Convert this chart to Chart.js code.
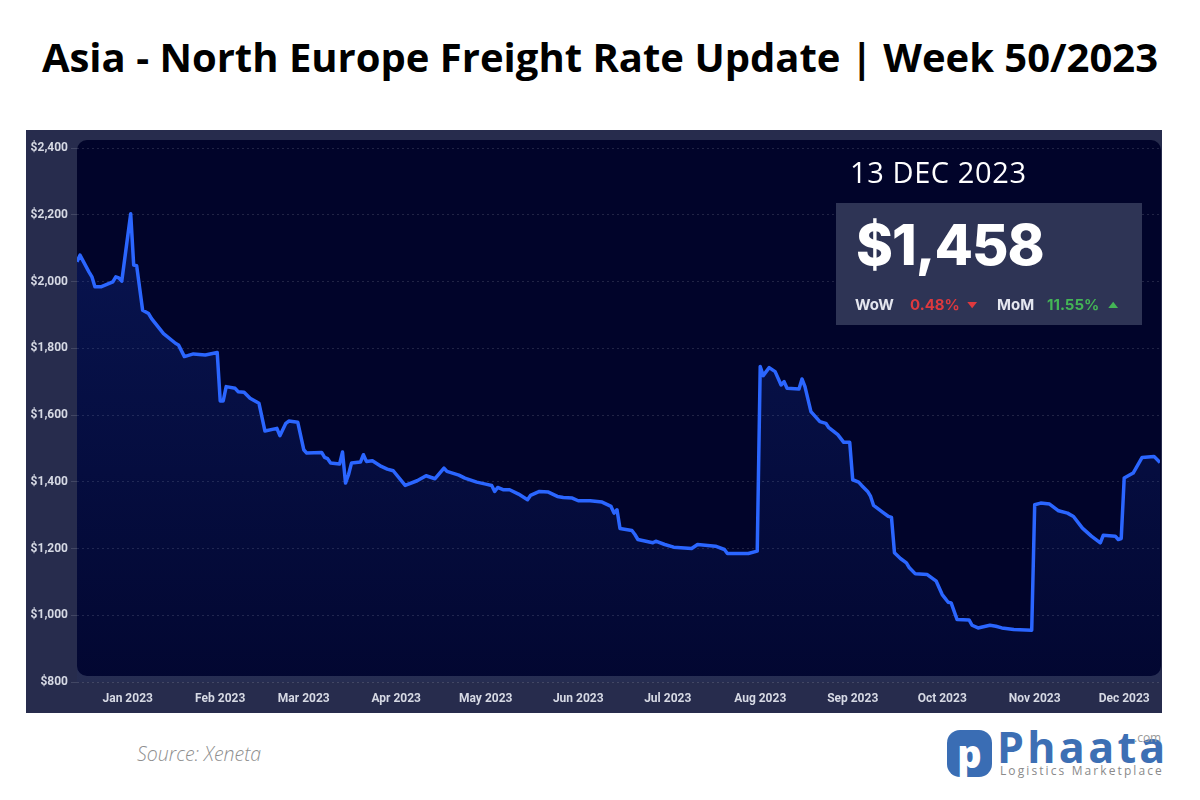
<!DOCTYPE html>
<html>
<head>
<meta charset="utf-8">
<title>Asia - North Europe Freight Rate Update | Week 50/2023</title>
<script src="https://cdn.jsdelivr.net/npm/chart.js@4.4.0/dist/chart.umd.min.js"></script>
<style>
  body { margin: 0; background: #fff; }
  #page { position: relative; width: 1200px; height: 800px; overflow: hidden; font-family: 'Open Sans', sans-serif; }
  #title { position: absolute; left: 0; top: 37px; width: 1200px; text-align: center; font-size: 40px; line-height: 40px; font-weight: 700; color: #000; white-space: nowrap; }
  #panel { position: absolute; left: 26px; top: 130px; width: 1136px; height: 583px; background: #272c4d; }
  #date { position: absolute; left: 850px; top: 157px; font-size: 29px; line-height: 29px; color: #fff; letter-spacing: 0.6px; white-space: nowrap; }
  #box { position: absolute; left: 836px; top: 203px; width: 306px; height: 122px; background: #2e3455; font-family: Inter, sans-serif; }
  #price { position: absolute; left: 20px; top: 14px; font-size: 56px; line-height: 56px; font-weight: 800; color: #fff; letter-spacing: -1px; }
  .chg { position: absolute; top: 94px; font-size: 15px; line-height: 15px; font-weight: 700; white-space: nowrap; }
  .lbl { color: #e4e6ef; }
  .down { color: #e0393e; }
  .up { color: #44b556; }
  .arrow { font-size: 8px; line-height: 8px; top: 98px; transform: scaleX(1.3); }
  #source { position: absolute; left: 137px; top: 744px; font-size: 19.5px; line-height: 19.5px; font-style: italic; font-weight: 300; color: #8f8f8f; }
  #logoIcon { position: absolute; left: 947px; top: 730px; width: 45px; height: 47px; background: #3a6db4; border-radius: 13px; color: #fff; font-weight: 800; font-size: 38px; line-height: 47px; text-align: center; }
  #logoText { position: absolute; left: 997px; top: 725px; font-size: 43px; line-height: 43px; font-weight: 700; color: #3d6fb4; letter-spacing: 3.3px; }
  #logoCom { position: absolute; left: 1134px; top: 732px; font-size: 12px; line-height: 12px; color: #9a9a9a; }
  #logoSub { position: absolute; left: 1000px; top: 765px; font-size: 12px; line-height: 12px; color: #8a8a8a; letter-spacing: 2.1px; white-space: nowrap; }
</style>
</head>
<body>
<div id="page">
  <div id="title">Asia - North Europe Freight Rate Update | Week 50/2023</div>
  <div id="panel"><canvas id="rateChart"></canvas></div>
  <div id="date">13 DEC 2023</div>
  <div id="box">
    <div id="price">$1,458</div>
    <span class="chg lbl" style="left:19px">WoW</span>
    <span class="chg down" style="left:74px">0.48%</span>
    <span class="chg down arrow" style="left:132px">&#9660;</span>
    <span class="chg lbl" style="left:161px">MoM</span>
    <span class="chg up" style="left:211px">11.55%</span>
    <span class="chg up arrow" style="left:273px">&#9650;</span>
  </div>
  <div id="source">Source: Xeneta</div>
  <div id="logoIcon">p</div>
  <div id="logoText">Phaata</div>
  <div id="logoCom">.com</div>
  <div id="logoSub">Logistics Marketplace</div>
</div>
<script>
// Spot rate, Asia - North Europe, USD per FEU
const dates = [
  '2022-12-15', '2022-12-16', '2022-12-19', '2022-12-20', '2022-12-21', '2022-12-23', '2022-12-27', '2022-12-28',
  '2022-12-29', '2022-12-30', '2023-01-02', '2023-01-03', '2023-01-04', '2023-01-06', '2023-01-08', '2023-01-09',
  '2023-01-12', '2023-01-13', '2023-01-17', '2023-01-18', '2023-01-20', '2023-01-23', '2023-01-27', '2023-01-31',
  '2023-02-01', '2023-02-02', '2023-02-03', '2023-02-06', '2023-02-07', '2023-02-09', '2023-02-11', '2023-02-14',
  '2023-02-16', '2023-02-20', '2023-02-21', '2023-02-23', '2023-02-24', '2023-02-27', '2023-03-01', '2023-03-02',
  '2023-03-07', '2023-03-08', '2023-03-09', '2023-03-10', '2023-03-13', '2023-03-14', '2023-03-15', '2023-03-16',
  '2023-03-17', '2023-03-20', '2023-03-21', '2023-03-22', '2023-03-24', '2023-03-27', '2023-03-29', '2023-03-31',
  '2023-04-04', '2023-04-08', '2023-04-11', '2023-04-14', '2023-04-17', '2023-04-18', '2023-04-22', '2023-04-24',
  '2023-04-28', '2023-05-01', '2023-05-03', '2023-05-04', '2023-05-05', '2023-05-07', '2023-05-09', '2023-05-12',
  '2023-05-15', '2023-05-16', '2023-05-19', '2023-05-22', '2023-05-25', '2023-05-27', '2023-05-30', '2023-06-01',
  '2023-06-05', '2023-06-09', '2023-06-12', '2023-06-13', '2023-06-14', '2023-06-15', '2023-06-19', '2023-06-20',
  '2023-06-21', '2023-06-26', '2023-06-27', '2023-06-30', '2023-07-03', '2023-07-09', '2023-07-11', '2023-07-17',
  '2023-07-20', '2023-07-21', '2023-07-28', '2023-07-31', '2023-08-01', '2023-08-02', '2023-08-04', '2023-08-06',
  '2023-08-08', '2023-08-09', '2023-08-10', '2023-08-14', '2023-08-15', '2023-08-16', '2023-08-18', '2023-08-21',
  '2023-08-23', '2023-08-24', '2023-08-27', '2023-08-29', '2023-08-31', '2023-09-01', '2023-09-03', '2023-09-04',
  '2023-09-06', '2023-09-07', '2023-09-08', '2023-09-11', '2023-09-13', '2023-09-14', '2023-09-15', '2023-09-17',
  '2023-09-19', '2023-09-20', '2023-09-22', '2023-09-26', '2023-09-29', '2023-10-01', '2023-10-03', '2023-10-04',
  '2023-10-06', '2023-10-10', '2023-10-11', '2023-10-13', '2023-10-17', '2023-10-19', '2023-10-21', '2023-10-25',
  '2023-10-31', '2023-11-01', '2023-11-03', '2023-11-06', '2023-11-09', '2023-11-12', '2023-11-14', '2023-11-17',
  '2023-11-20', '2023-11-23', '2023-11-24', '2023-11-28', '2023-11-29', '2023-11-30', '2023-12-01', '2023-12-04',
  '2023-12-07', '2023-12-11', '2023-12-13'
];

const rates = [
  2059, 2079, 2029, 2014, 1984, 1984, 1999, 2014,
  2011, 2001, 2203, 2049, 2047, 1914, 1904, 1889,
  1855, 1844, 1815, 1810, 1775, 1783, 1780, 1787,
  1642, 1642, 1685, 1680, 1670, 1668, 1650, 1635,
  1552, 1560, 1538, 1575, 1582, 1578, 1496, 1486,
  1488, 1473, 1469, 1456, 1453, 1489, 1396, 1421,
  1456, 1459, 1481, 1461, 1463, 1446, 1438, 1433,
  1389, 1403, 1418, 1409, 1441, 1431, 1420, 1411,
  1399, 1393, 1389, 1371, 1383, 1376, 1376, 1363,
  1346, 1359, 1371, 1369, 1356, 1353, 1351, 1343,
  1343, 1339, 1326, 1306, 1316, 1260, 1254, 1242,
  1227, 1217, 1222, 1212, 1204, 1200, 1212, 1207,
  1197, 1185, 1185, 1192, 1745, 1718, 1742, 1730,
  1690, 1700, 1680, 1678, 1708, 1685, 1610, 1580,
  1575, 1562, 1541, 1518, 1518, 1406, 1399, 1389,
  1371, 1356, 1329, 1309, 1296, 1293, 1187, 1170,
  1157, 1142, 1124, 1122, 1102, 1062, 1039, 1037,
  987, 986, 970, 962, 970, 967, 962, 957,
  955, 1331, 1336, 1333, 1313, 1306, 1296, 1261,
  1237, 1217, 1240, 1237, 1227, 1230, 1411, 1426,
  1473, 1476, 1458
];

const monthStarts = [
  '2023-01-01', '2023-02-01', '2023-03-01', '2023-04-01', '2023-05-01', '2023-06-01',
  '2023-07-01', '2023-08-01', '2023-09-01', '2023-10-01', '2023-11-01', '2023-12-01'
];
const monthLabels = [
  'Jan 2023', 'Feb 2023', 'Mar 2023', 'Apr 2023', 'May 2023', 'Jun 2023',
  'Jul 2023', 'Aug 2023', 'Sep 2023', 'Oct 2023', 'Nov 2023', 'Dec 2023'
];

const yMin = 800;
const yMax = 2400;
const yStep = 200;

// days since 1 Jan 2023
function dayIndex(dateStr) {
  const p = dateStr.split('-');
  return (Date.UTC(+p[0], +p[1] - 1, +p[2]) - Date.UTC(2023, 0, 1)) / 86400000;
}

const points = dates.map(function(d, i) {
  return { x: dayIndex(d), y: rates[i] };
});

const tickFont = { family: 'Roboto', size: 12, weight: 'bold' };
const tickColor = '#d6d9e4';

// dark rounded plot background behind the grid
const plotBackground = {
  id: 'plotBackground',
  beforeDraw: function(chart) {
    const a = chart.chartArea;
    const ctx = chart.ctx;
    ctx.save();
    ctx.fillStyle = '#01042a';
    ctx.beginPath();
    ctx.roundRect(a.left, a.top - 8, a.right - a.left + 1, a.bottom - a.top + 2, 10);
    ctx.fill();
    ctx.restore();
  }
};

const ctx = document.getElementById('rateChart').getContext('2d');
new Chart(ctx, {
  type: 'line',
  data: {
    datasets: [{
      data: points,
      borderColor: '#2b66ff',
      borderWidth: 3.5,
      borderJoinStyle: 'round',
      pointRadius: 0,
      tension: 0,
      fill: 'start',
      backgroundColor: function(context) {
        const a = context.chart.chartArea;
        if (!a) return null;
        const g = context.chart.ctx.createLinearGradient(0, a.top, 0, a.bottom);
        g.addColorStop(0, 'rgba(35, 80, 220, 0.24)');
        g.addColorStop(1, 'rgba(35, 80, 220, 0.04)');
        return g;
      }
    }]
  },
  options: {
    responsive: true,
    maintainAspectRatio: false,
    animation: false,
    events: [],
    layout: { padding: { top: 18, right: 2, left: 0, bottom: 0 } },
    plugins: {
      legend: { display: false },
      tooltip: { enabled: false }
    },
    scales: {
      x: {
        type: 'linear',
        min: dayIndex(dates[0]),
        max: dayIndex(dates[dates.length - 1]),
        afterBuildTicks: function(scale) {
          scale.ticks = monthStarts.map(function(d) { return { value: dayIndex(d) }; });
        },
        afterFit: function(scale) { scale.height = 31; },
        ticks: {
          autoSkip: false,
          maxRotation: 0,
          padding: 10,
          color: tickColor,
          font: tickFont,
          callback: function(value, index) { return monthLabels[index]; }
        },
        grid: { display: false, drawTicks: false },
        border: { display: false }
      },
      y: {
        min: yMin,
        max: yMax,
        afterFit: function(scale) { scale.width = 51; },
        ticks: {
          stepSize: yStep,
          padding: 3,
          color: tickColor,
          font: tickFont,
          callback: function(value) { return '$' + value.toLocaleString('en-US'); }
        },
        grid: { color: 'rgba(255, 255, 255, 0.13)', tickLength: 6, lineWidth: 1 },
        border: { display: false, dash: [2, 3] }
      }
    }
  },
  plugins: [plotBackground]
});
</script>
</body>
</html>
